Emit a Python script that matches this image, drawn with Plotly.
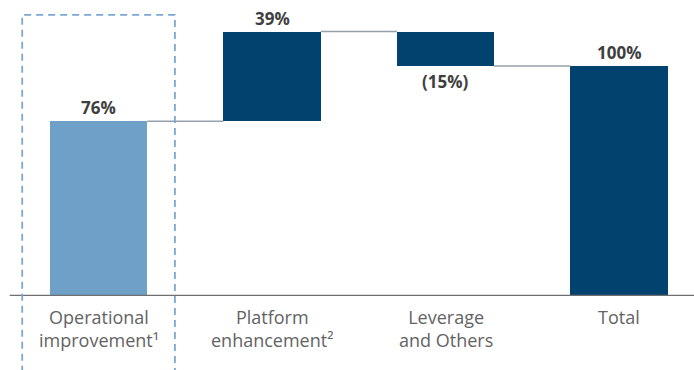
import plotly.graph_objects as go

# Bridge components (percent of total change)
categories = ["Operational<br>improvement\u00b9", "Platform<br>enhancement\u00b2",
              "Leverage<br>and Others", "Total"]
values = [76, 39, -15, 100]
labels = ["76%", "39%", "(15%)", "100%"]
is_total = [False, False, False, True]
colors = ["#6fa1c8", "#01426f", "#01426f", "#01426f"]

# Floating bases for the waterfall steps
bases, running = [], 0
for v, tot in zip(values, is_total):
    if tot:
        bases.append(0)
        running = v
    else:
        bases.append(running)
        running += v

x = list(range(len(categories)))
bar_w = 0.56

fig = go.Figure(go.Bar(
    x=x, y=values, base=bases, width=bar_w,
    marker=dict(color=colors, line=dict(width=0)),
    hoverinfo="skip",
))

shapes = []
# Connectors between consecutive bars
for i in range(len(values) - 1):
    level = bases[i] + values[i]
    shapes.append(dict(type="line", xref="x", yref="y",
                       x0=i + bar_w / 2, x1=i + 1 - bar_w / 2, y0=level, y1=level,
                       line=dict(color="#95a1ab", width=1.4)))

# Baseline axis
shapes.append(dict(type="line", xref="paper", yref="y", x0=0.014, x1=1, y0=0, y1=0,
                   line=dict(color="#6f6f6f", width=2.4)))

# Dashed highlight around the first component
shapes.append(dict(type="rect", xref="paper", yref="paper",
                   x0=0.032, x1=0.252, y0=-0.4, y1=0.95,
                   line=dict(color="#7aa6d2", width=1.8, dash="7px,5px"),
                   fillcolor="rgba(0,0,0,0)"))

annotations = []
for i, (v, b, lab) in enumerate(zip(values, bases, labels)):
    top = max(b, b + v)
    bottom = min(b, b + v)
    if v >= 0:
        annotations.append(dict(x=i, y=top, xref="x", yref="y", text=f"<b>{lab}</b>",
                                showarrow=False, yanchor="bottom", yshift=0,
                                font=dict(size=17, color="#3f3f3f")))
    else:
        annotations.append(dict(x=i, y=bottom, xref="x", yref="y", text=f"<b>{lab}</b>",
                                showarrow=False, yanchor="top", yshift=-2,
                                font=dict(size=17, color="#3f3f3f")))

for i, cat in enumerate(categories):
    annotations.append(dict(x=i, y=-0.025, xref="x", yref="paper", text=cat,
                            showarrow=False, yanchor="top",
                            font=dict(size=18, color="#636363")))

fig.update_layout(
    width=694, height=370,
    margin=dict(l=0, r=0, t=0, b=74),
    paper_bgcolor="white", plot_bgcolor="white",
    font=dict(family="Open Sans, sans-serif"),
    showlegend=False,
    xaxis=dict(range=[-0.568, 3.432], showticklabels=False, showgrid=False,
               zeroline=False, showline=False, ticks=""),
    yaxis=dict(range=[0, 128.7], visible=False, showgrid=False, zeroline=False),
    shapes=shapes,
    annotations=annotations,
    bargap=0,
)

fig.write_html("out.html")
